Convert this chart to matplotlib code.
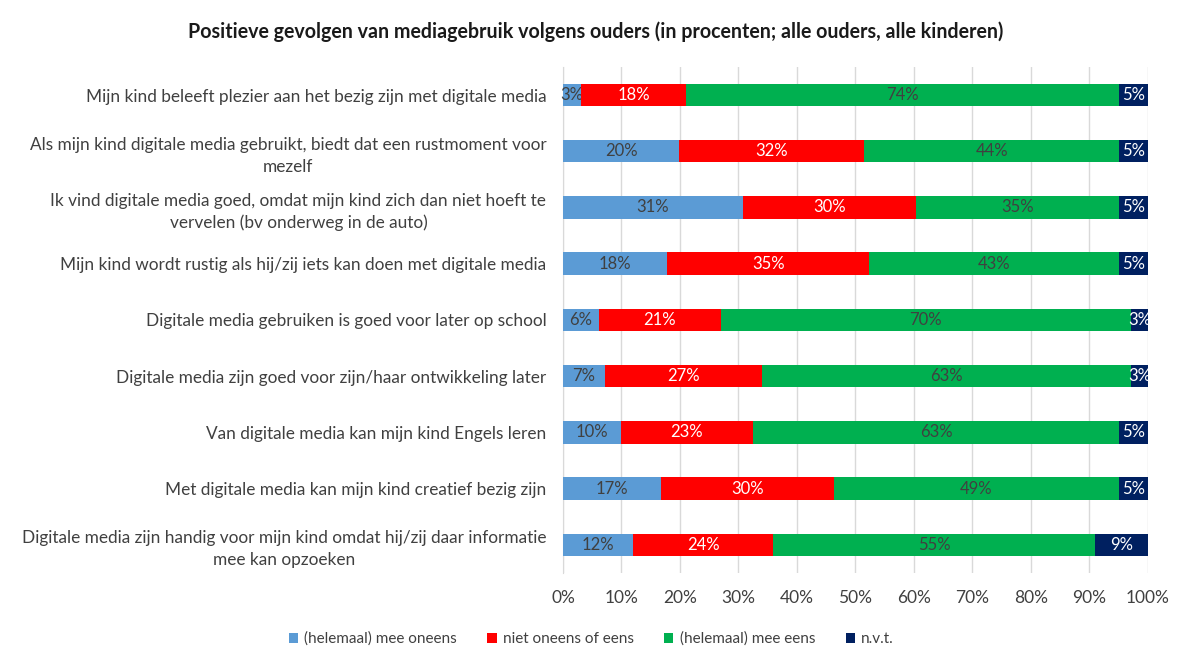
import matplotlib.pyplot as plt
import numpy as np

plt.rcParams['font.family'] = ['Lato', 'DejaVu Sans']

categories = [
    "Mijn kind beleeft plezier aan het bezig zijn met digitale media",
    "Als mijn kind digitale media gebruikt, biedt dat een rustmoment voor\nmezelf",
    "Ik vind digitale media goed, omdat mijn kind zich dan niet hoeft te\nvervelen (bv onderweg in de auto)",
    "Mijn kind wordt rustig als hij/zij iets kan doen met digitale media",
    "Digitale media gebruiken is goed voor later op school",
    "Digitale media zijn goed voor zijn/haar ontwikkeling later",
    "Van digitale media kan mijn kind Engels leren",
    "Met digitale media kan mijn kind creatief bezig zijn",
    "Digitale media zijn handig voor mijn kind omdat hij/zij daar informatie\nmee kan opzoeken",
]
oneens = [3.0, 19.9, 30.7, 17.8, 6.1, 7.1, 9.9, 16.8, 12.0]
neutraal = [18.1, 31.6, 29.7, 34.6, 20.9, 27.0, 22.6, 29.6, 23.9]
eens = [73.9, 43.6, 34.6, 42.6, 70.1, 63.0, 62.6, 48.6, 55.1]
nvt = [5.0, 4.9, 5.0, 5.0, 2.9, 2.9, 4.9, 5.0, 9.0]

series = [
    ("(helemaal) mee oneens", oneens, "#5B9BD5", "#404040"),
    ("niet oneens of eens", neutraal, "#FF0000", "white"),
    ("(helemaal) mee eens", eens, "#00B050", "#404040"),
    ("n.v.t.", nvt, "#002060", "white"),
]

fig = plt.figure(figsize=(11.92, 6.69), dpi=100)
ax = fig.add_axes([0.4723, 0.1435, 0.4907, 0.7565])

y = np.arange(len(categories))
left = np.zeros(len(categories))
for name, vals, color, tcolor in series:
    vals = np.array(vals)
    bars = ax.barh(y, vals, left=left, height=0.4, color=color, label=name, zorder=3)
    ax.bar_label(bars, labels=[f"{v:.0f}%" for v in vals], label_type="center",
                 color=tcolor, fontsize=12)
    left += vals

ax.set_xlim(0, 100)
ax.set_ylim(len(categories) - 0.5, -0.5)
ax.set_xticks(np.arange(0, 101, 10))
ax.set_xticklabels([f"{t}%" for t in range(0, 101, 10)], fontsize=12.5, color="#404040")
ax.set_yticks(y)
ax.set_yticklabels(categories, fontsize=12.45, color="#404040", multialignment="center",
                   linespacing=1.45)
ax.tick_params(axis="y", length=0, pad=12)
ax.tick_params(axis="x", length=0, pad=12)
ax.grid(axis="x", color="#D9D9D9", lw=1, zorder=0)
for s in ["top", "right", "bottom"]:
    ax.spines[s].set_visible(False)
ax.spines["left"].set_color("#D9D9D9")

fig.suptitle("Positieve gevolgen van mediagebruik volgens ouders (in procenten; alle ouders, alle kinderen)",
             fontsize=14.1, fontweight="bold", x=0.5, y=0.968, color="#1a1a1a")
fig.legend(loc="center", bbox_to_anchor=(0.496, 0.045), ncol=4, frameon=False,
           fontsize=11, handlelength=0.6, handleheight=0.6, columnspacing=2.0,
           handletextpad=0.4, labelcolor="#404040")

fig.savefig("out.png", dpi=100)
